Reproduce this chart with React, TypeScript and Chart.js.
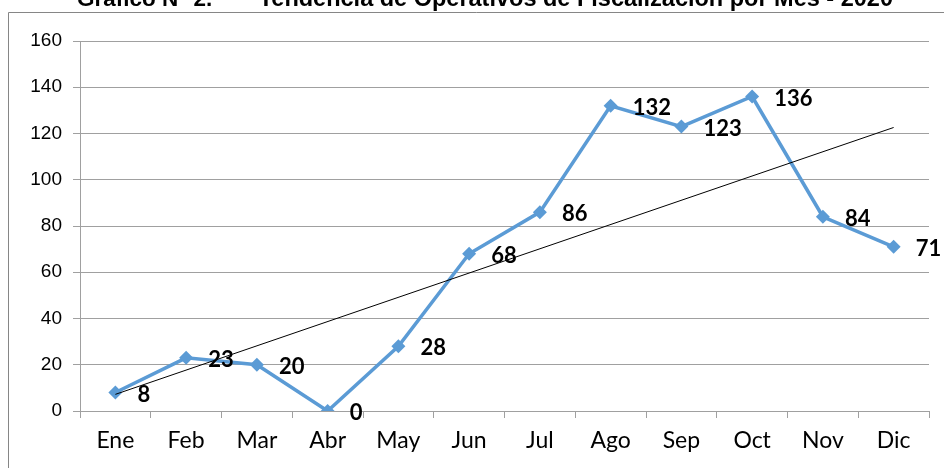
import React, { useEffect, useRef } from "react";
import { Chart, registerables } from "chart.js";

Chart.register(...registerables);

const months = ["Ene", "Feb", "Mar", "Abr", "May", "Jun", "Jul", "Ago", "Sep", "Oct", "Nov", "Dic"];
const operativos = [8, 23, 20, 0, 28, 68, 86, 132, 123, 136, 84, 71];
// linear trendline end values (at Ene and Dic)
const trendEnds = [7.2, 122.6];
const yTicks = [0, 20, 40, 60, 80, 100, 120, 140, 160];
const titleLeft = "Gráfico N° 2.";
const titleRight = "Tendencia de Operativos de Fiscalización por Mes - 2020";

const frameAndTitle = {
  id: "frameAndTitle",
  beforeDraw(chart: any) {
    const ctx = chart.ctx;
    ctx.save();
    ctx.fillStyle = "#ffffff";
    ctx.fillRect(0, 0, chart.width, chart.height);
    ctx.strokeStyle = "#868686";
    ctx.lineWidth = 1;
    ctx.beginPath();
    ctx.moveTo(8.5, chart.height + 2);
    ctx.lineTo(8.5, 12.5);
    ctx.lineTo(chart.width + 2, 12.5);
    ctx.stroke();
    ctx.fillStyle = "#000000";
    ctx.textBaseline = "alphabetic";
    ctx.textAlign = "left";
    ctx.font = "bold 22.5px 'Liberation Sans', Arial, sans-serif";
    ctx.fillText(titleLeft, 77, 6);
    ctx.textAlign = "right";
    ctx.font = "bold 23.5px 'Liberation Sans', Arial, sans-serif";
    ctx.fillText(titleRight, 893, 6);
    ctx.restore();
  },
};

const valueLabels = {
  id: "valueLabels",
  afterDatasetsDraw(chart: any) {
    const ctx = chart.ctx;
    const meta = chart.getDatasetMeta(0);
    ctx.save();
    ctx.fillStyle = "#000000";
    ctx.font = "bold 22px Lato, 'Open Sans', sans-serif";
    ctx.textAlign = "left";
    ctx.textBaseline = "middle";
    meta.data.forEach((pt: any, i: number) => {
      ctx.fillText(String(operativos[i]), pt.x + 22, pt.y + 2);
    });
    ctx.restore();
  },
};

export default function App() {
  const ref = useRef<HTMLCanvasElement | null>(null);
  useEffect(() => {
    if (!ref.current) return;
    const chart = new Chart(ref.current, {
      type: "line",
      data: {
        labels: months,
        datasets: [
          {
            label: "Operativos",
            data: operativos,
            borderColor: "#5b9bd5",
            backgroundColor: "#5b9bd5",
            borderWidth: 3.5,
            pointStyle: "rectRot",
            pointRadius: 7,
            pointBorderWidth: 0,
            pointBackgroundColor: "#5b9bd5",
            tension: 0,
            order: 2,
          },
          {
            label: "Tendencia",
            data: [
              { x: months[0], y: trendEnds[0] },
              { x: months[months.length - 1], y: trendEnds[1] },
            ],
            borderColor: "#000000",
            borderWidth: 1,
            pointRadius: 0,
            tension: 0,
            order: 1,
          },
        ],
      },
      options: {
        animation: false,
        responsive: false,
        maintainAspectRatio: false,
        devicePixelRatio: 1,
        layout: { padding: { left: 0, top: 41, right: 15, bottom: 0 } },
        plugins: {
          legend: { display: false },
          title: { display: false },
          tooltip: { enabled: false },
        },
        scales: {
          x: {
            type: "category",
            offset: true,
            afterFit(scale: any) {
              scale.height = 57;
            },
            grid: {
              offset: true,
              drawOnChartArea: false,
              drawTicks: true,
              tickLength: 7,
              color: "#a0a0a0",
            },
            border: { display: true, color: "#a0a0a0", width: 1 },
            ticks: {
              color: "#000000",
              font: { family: "Lato, 'Open Sans', sans-serif", size: 23 },
              padding: 9,
              maxRotation: 0,
              autoSkip: false,
            },
          },
          y: {
            min: 0,
            max: 160,
            afterFit(scale: any) {
              scale.width = 80;
            },
            afterBuildTicks(scale: any) {
              scale.ticks = yTicks.map((v) => ({ value: v }));
            },
            grid: {
              drawTicks: true,
              tickLength: 7,
              color: "#a0a0a0",
            },
            border: { display: true, color: "#a0a0a0", width: 1 },
            ticks: {
              color: "#000000",
              font: { family: "'Liberation Sans', Arial, sans-serif", size: 19 },
              padding: 11,
            },
          },
        },
      },
      plugins: [frameAndTitle, valueLabels],
    });
    return () => chart.destroy();
  }, []);
  return (
    <div style={{ position: "fixed", left: 0, top: 0, width: 944, height: 468, background: "#fff" }}>
      <canvas ref={ref} width={944} height={468} style={{ display: "block", width: 944, height: 468 }} />
    </div>
  );
}
